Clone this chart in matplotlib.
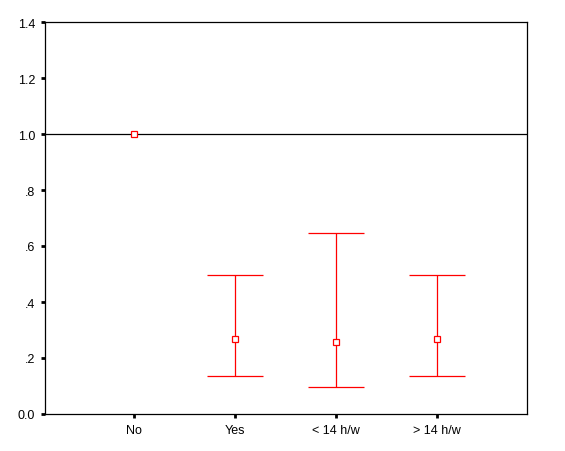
import numpy as np
import matplotlib
matplotlib.use("Agg")
import matplotlib.pyplot as plt

plt.rcParams['font.family'] = ['Liberation Sans', 'DejaVu Sans']

categories = ["No", "Yes", "< 14 h/w", "> 14 h/w"]
estimate = [1.0, 0.267, 0.256, 0.268]
lower = [None, 0.135, 0.095, 0.136]
upper = [None, 0.496, 0.645, 0.496]
yticks = [0.0, 0.2, 0.4, 0.6, 0.8, 1.0, 1.2, 1.4]
ytick_labels = ["0.0", ".2", ".4", ".6", ".8", "1.0", "1.2", "1.4"]

fig = plt.figure(figsize=(5.65, 4.52), dpi=100)
ax = fig.add_axes([45 / 565, (452 - 415) / 452, (527 - 45) / 565, (415 - 23) / 452])

x = np.arange(1, len(categories) + 1)

# reference line at 1
ax.axhline(1.0, color='black', lw=0.9, zorder=1)

for xi, est, lo, hi in zip(x, estimate, lower, upper):
    if lo is not None:
        ax.vlines(xi, lo, hi, color='red', lw=0.9)
        ax.hlines([lo, hi], xi - 0.28, xi + 0.28, color='red', lw=0.9)
    ax.plot(xi, est, marker='s', ms=4.5, mfc='white', mec='red', mew=0.9,
            linestyle='none', zorder=3)

ax.set_xlim(0.12, 4.89)
ax.set_ylim(0, 1.4)
ax.set_xticks(x)
ax.set_xticklabels(categories, fontsize=9)
ax.set_yticks(yticks)
ax.set_yticklabels(ytick_labels, fontsize=9)
ax.tick_params(axis='both', direction='out', length=3, width=2, pad=4)

for s in ax.spines.values():
    s.set_linewidth(0.9)

fig.savefig("out.png", dpi=100)
